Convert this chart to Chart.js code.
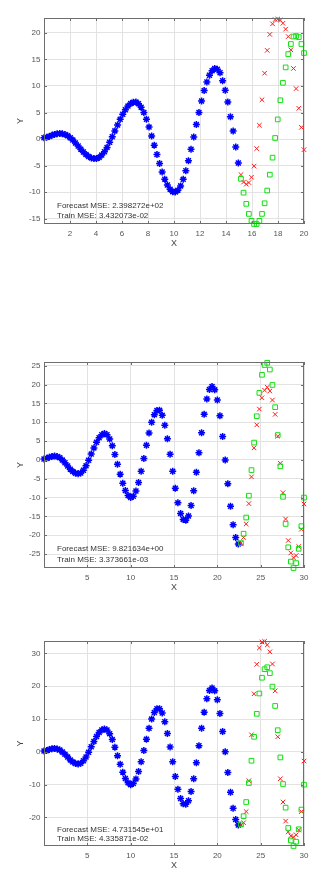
<!DOCTYPE html>
<html>
<head>
<meta charset="utf-8">
<script src="https://cdn.jsdelivr.net/npm/chart.js@4.4.1/dist/chart.umd.min.js"></script>
<style>
  html, body { margin: 0; padding: 0; background: #fff; }
  body { width: 336px; height: 874px; position: relative; overflow: hidden; }
  canvas { position: absolute; left: 0; }
</style>
</head>
<body>
<canvas id="plot1" width="336" height="252" style="top:0px"></canvas>
<canvas id="plot2" width="336" height="266" style="top:330px"></canvas>
<canvas id="plot3" width="336" height="264" style="top:610px"></canvas>
<script>
// ---- plot 1: x in [0, 20] ----
const trainX1 = [0, 0.2, 0.4, 0.61, 0.81, 1.01, 1.21, 1.41, 1.62, 1.82, 2.02, 2.22, 2.42, 2.63, 2.83, 3.03, 3.23, 3.43, 3.64, 3.84,
  4.04, 4.24, 4.44, 4.65, 4.85, 5.05, 5.25, 5.45, 5.66, 5.86, 6.06, 6.26, 6.46, 6.67, 6.87, 7.07, 7.27, 7.47, 7.68, 7.88,
  8.08, 8.28, 8.48, 8.69, 8.89, 9.09, 9.29, 9.49, 9.7, 9.9, 10.1, 10.3, 10.51, 10.71, 10.91, 11.11, 11.31, 11.52, 11.72, 11.92,
  12.12, 12.32, 12.53, 12.73, 12.93, 13.13, 13.33, 13.54, 13.74, 13.94, 14.14, 14.34, 14.55, 14.75, 14.95];
const trainY1 = [0.25, 0.35, 0.5, 0.7, 0.88, 1.0, 1.05,
  0.98, 0.85, 0.6, 0.25, -0.2, -0.75, -1.3, -1.9, -2.45, -2.9, -3.3, -3.55, -3.68,
  -3.68, -3.46, -3.02, -2.38, -1.57, -0.61, 0.44, 1.54, 2.65, 3.71, 4.68, 5.53, 6.21, 6.69, 6.95,
  6.98, 6.67, 6.01, 5.02, 3.74, 2.25, 0.59, -1.15, -2.91, -4.61, -6.19, -7.55, -8.65, -9.44, -9.91,
  -9.98, -9.63, -8.82, -7.59, -5.98, -4.07, -1.92, 0.38, 2.72, 5.02, 7.17, 9.13, 10.75, 12.02, 12.88, 13.28,
  13.16, 12.5, 11.0, 9.2, 7.0, 4.2, 1.5, -1.5, -4.5];
const testX1 = [15.15, 15.35, 15.56, 15.76, 15.96, 16.16, 16.36, 16.57, 16.77, 16.97, 17.17, 17.37, 17.58, 17.78, 17.98,
  18.18, 18.38, 18.59, 18.79, 18.99, 19.19, 19.39, 19.6, 19.8, 20];
const testY1 = [-7.5, -10.1, -12.2, -14.1, -15.4, -16.0, -16.0, -15.4, -14.1, -12.1, -9.7, -6.7, -3.5, 0.2, 3.7,
  7.3, 10.6, 13.5, 16.0, 17.9, 19.3, 19.4, 19.2, 17.9, 16.2];
const predY1 = [-6.7, -8.1, -8.5, -8.2, -7.2, -5.1, -1.8, 2.6, 7.4, 12.4, 16.7, 19.7, 21.7, 22.5, 22.6,
  22.4, 21.8, 20.7, 19.3, 16.8, 13.3, 9.5, 5.8, 2.2, -2.0];

// ---- plots 2 and 3: x in [0, 30] ----
const trainX2 = [0, 0.3, 0.61, 0.91, 1.21, 1.52, 1.82, 2.12, 2.42, 2.73, 3.03, 3.33, 3.64, 3.94, 4.24, 4.55, 4.85, 5.15, 5.45, 5.76,
  6.06, 6.36, 6.67, 6.97, 7.27, 7.58, 7.88, 8.18, 8.48, 8.79, 9.09, 9.39, 9.7, 10, 10.3, 10.61, 10.91, 11.21, 11.52, 11.82,
  12.12, 12.42, 12.73, 13.03, 13.33, 13.64, 13.94, 14.24, 14.55, 14.85, 15.15, 15.45, 15.76, 16.06, 16.36, 16.67, 16.97, 17.27, 17.58, 17.88,
  18.18, 18.48, 18.79, 19.09, 19.39, 19.7, 20, 20.3, 20.61, 20.91, 21.21, 21.52, 21.82, 22.12, 22.42];
const trainY2 = [0.25, 0.42, 0.7, 0.93, 1.05,
  0.9, 0.6, -0.05, -0.75, -1.6, -2.45, -3.1, -3.55, -3.7,
  -3.46, -2.73, -1.57, -0.1, 1.54, 3.19, 4.68, 5.89, 6.69, 7.0,
  6.67, 5.55, 3.74, 1.43, -1.15, -3.78, -6.19, -8.13, -9.44, -9.99,
  -9.63, -8.25, -5.98, -3.02, 0.38, 3.88, 7.17, 9.99, 12.02, 13.14,
  13.16, 11.84, 9.2, 5.6, 1.5, -3.0, -7.5, -11.4, -14.2, -15.8,
  -16.0, -14.9, -12.1, -8.2, -3.3, 1.9, 7.2, 12.1, 16.2, 18.7, 19.5,
  18.6, 15.9, 11.7, 6.2, 0.0, -6.3, -12.3, -17.2, -20.6, -22.3];
const testX2 = [22.73, 23.03, 23.33, 23.64, 23.94, 24.24, 24.55, 24.85, 25.15, 25.45, 25.76, 26.06, 26.36, 26.67, 26.97,
  27.27, 27.58, 27.88, 28.18, 28.48, 28.79, 29.09, 29.39, 29.7, 30];
const testY2 = [-22.1, -19.6, -15.3, -9.5, -2.7, 4.6, 11.6, 17.8, 22.6, 25.2, 25.8, 24.0, 19.9, 14.0, 6.6,
  -1.7, -9.8, -17.0, -23.2, -27.0, -28.7, -27.4, -23.6, -17.6, -10.0];
const predY2 = [-22.0, -20.6, -17.0, -11.6, -4.5, 3.2, 9.3, 13.5, 16.5, 18.5, 19.3, 18.3, 15.9, 12.1, 6.3,
  -0.9, -8.7, -15.7, -21.4, -24.7, -26.0, -25.4, -23.0, -18.4, -11.7];
const predY3 = [-22.2, -21.6, -18.2, -8.8, 5.2, 17.7, 26.7, 31.7, 33.5, 33.7, 32.6, 30.5, 26.8, 18.6, 4.6,
  -8.2, -15.3, -21.1, -24.4, -25.6, -26.0, -25.3, -23.8, -18.2, -2.8];

// tick labels
const xTicks1 = [2, 4, 6, 8, 10, 12, 14, 16, 18, 20];
const yTicks1 = [-15, -10, -5, 0, 5, 10, 15, 20];
const xTicks2 = [5, 10, 15, 20, 25, 30];
const yTicks2 = [-25, -20, -15, -10, -5, 0, 5, 10, 15, 20, 25];
const yTicks3 = [-20, -10, 0, 10, 20, 30];

// MSE notes
const mseText1 = ['Forecast MSE: 2.398272e+02', 'Train MSE: 3.432073e-02'];
const mseText2 = ['Forecast MSE: 9.821634e+00', 'Train MSE: 3.373661e-03'];
const mseText3 = ['Forecast MSE: 4.731545e+01', 'Train MSE: 4.335871e-02'];

const FONT = '"Liberation Sans", Arial, Helvetica, sans-serif';

function toPoints(xs, ys) {
  return xs.map((x, i) => ({x: x, y: ys[i]}));
}

// box round the axes, MATLAB style inner ticks and the text note
const matlabBox = {
  id: 'matlabBox',
  afterDatasetsDraw(chart, args, opts) {
    const {ctx, chartArea: a, scales} = chart;
    ctx.save();
    ctx.strokeStyle = '#6e6e6e';
    ctx.lineWidth = 1;
    ctx.strokeRect(a.left + 0.5, a.top + 0.5, a.right - a.left - 1, a.bottom - a.top - 1);
    ctx.beginPath();
    scales.x.ticks.forEach(t => {
      const px = Math.round(scales.x.getPixelForValue(t.value)) + 0.5;
      ctx.moveTo(px, a.bottom); ctx.lineTo(px, a.bottom - 3);
      ctx.moveTo(px, a.top); ctx.lineTo(px, a.top + 3);
    });
    scales.y.ticks.forEach(t => {
      const py = Math.round(scales.y.getPixelForValue(t.value)) + 0.5;
      ctx.moveTo(a.left, py); ctx.lineTo(a.left + 3, py);
      ctx.moveTo(a.right, py); ctx.lineTo(a.right - 3, py);
    });
    ctx.stroke();
    ctx.fillStyle = '#333';
    ctx.font = '8px ' + FONT;
    ctx.textBaseline = 'middle';
    ctx.textAlign = 'left';
    opts.lines.forEach((s, i) => ctx.fillText(s, a.left + 13, a.bottom + opts.offsets[i]));
    ctx.restore();
  }
};

function makePlot(id, p) {
  const ctx = document.getElementById(id).getContext('2d');
  const config = {
    type: 'scatter',
    data: {
      datasets: [
        {
          label: 'test',
          data: toPoints(p.testX, p.testY),
          pointStyle: 'rect',
          pointRadius: 3.3,
          borderColor: '#11e011',
          backgroundColor: 'rgba(0,0,0,0)',
          borderWidth: 1,
          clip: false
        },
        {
          label: 'forecast',
          data: toPoints(p.testX, p.predY),
          pointStyle: 'crossRot',
          pointRadius: 3.2,
          borderColor: '#ff1a1a',
          borderWidth: 1,
          clip: false
        },
        {
          label: 'train',
          data: toPoints(p.trainX, p.trainY),
          pointStyle: 'star',
          pointRadius: 3.5,
          borderColor: '#0000ff',
          backgroundColor: '#0000ff',
          borderWidth: 1.5,
          clip: false
        }
      ]
    },
    options: {
      responsive: false,
      animation: false,
      events: [],
      layout: {
        autoPadding: false,
        padding: {top: p.padTop, right: 32, bottom: 0, left: 0}
      },
      plugins: {
        legend: {display: false},
        tooltip: {enabled: false},
        matlabBox: {lines: p.text, offsets: p.textOffsets}
      },
      scales: {
        x: {
          type: 'linear',
          position: 'bottom',
          min: p.xMin,
          max: p.xMax,
          afterBuildTicks: scale => { scale.ticks = p.xTicks.map(v => ({value: v})); },
          afterFit: scale => { scale.height = 28; },
          grid: {color: '#e2e2e2', drawTicks: false},
          border: {display: false},
          ticks: {color: '#555', padding: 5, maxRotation: 0, font: {family: FONT, size: 8}},
          title: {display: true, text: 'X', color: '#444', padding: {top: 0, bottom: 2.6}, font: {family: FONT, size: 9}}
        },
        y: {
          type: 'linear',
          min: p.yMin,
          max: p.yMax,
          afterBuildTicks: scale => { scale.ticks = p.yTicks.map(v => ({value: v})); },
          afterFit: scale => { scale.width = 44; },
          grid: {color: '#e2e2e2', drawTicks: false},
          border: {display: false},
          ticks: {color: '#555', padding: 3.5, font: {family: FONT, size: 8}},
          title: {display: true, text: 'Y', color: '#444', padding: {top: 15, bottom: 0}, font: {family: FONT, size: 9}}
        }
      }
    },
    plugins: [matlabBox]
  };
  new Chart(ctx, config);
}

document.addEventListener('DOMContentLoaded', function() {
  makePlot('plot1', {
    trainX: trainX1, trainY: trainY1, testX: testX1, testY: testY1, predY: predY1,
    xMin: 0, xMax: 20, yMin: -16.0, yMax: 22.8, xTicks: xTicks1, yTicks: yTicks1,
    padTop: 18, text: mseText1, textOffsets: [-18, -8.5]
  });
  makePlot('plot2', {
    trainX: trainX2, trainY: trainY2, testX: testX2, testY: testY2, predY: predY2,
    xMin: 0, xMax: 30, yMin: -28.7, yMax: 26.0, xTicks: xTicks2, yTicks: yTicks2,
    padTop: 32, text: mseText2, textOffsets: [-19, -8.7]
  });
  makePlot('plot3', {
    trainX: trainX2, trainY: trainY2, testX: testX2, testY: testY2, predY: predY3,
    xMin: 0, xMax: 30, yMin: -28.7, yMax: 33.8, xTicks: xTicks2, yTicks: yTicks3,
    padTop: 31, text: mseText3, textOffsets: [-16, -7]
  });
});
</script>
</body>
</html>
